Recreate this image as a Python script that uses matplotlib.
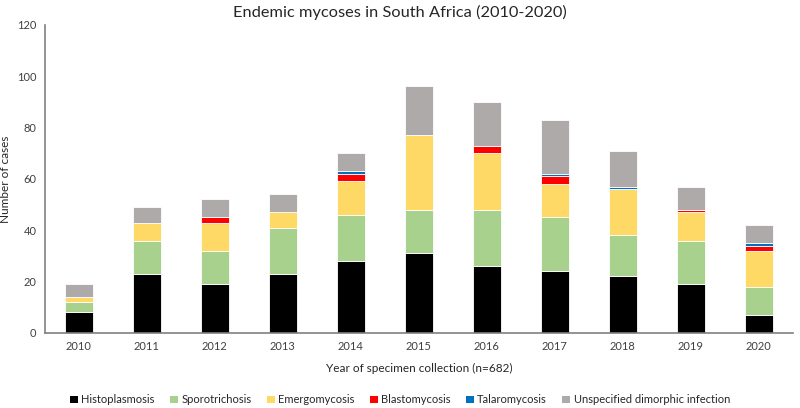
import matplotlib
matplotlib.use("Agg")
import matplotlib.pyplot as plt
import numpy as np
from matplotlib.patches import Patch

plt.rcParams['font.family'] = ['Lato', 'DejaVu Sans']

years = ['2010', '2011', '2012', '2013', '2014', '2015', '2016', '2017', '2018', '2019', '2020']
histoplasmosis = [8, 23, 19, 23, 28, 31, 26, 24, 22, 19, 7]
sporotrichosis = [4, 13, 13, 18, 18, 17, 22, 21, 16, 17, 11]
emergomycosis = [2, 7, 11, 6, 13, 29, 22, 13, 18, 11, 14]
blastomycosis = [0, 0, 2, 0, 3, 0, 3, 3, 0, 1, 2]
talaromycosis = [0, 0, 0, 0, 1, 0, 0, 1, 1, 0, 1]
unspecified = [5, 6, 7, 7, 7, 19, 17, 21, 14, 9, 7]

series = [
    ('Histoplasmosis', histoplasmosis, '#000000'),
    ('Sporotrichosis', sporotrichosis, '#A9D18E'),
    ('Emergomycosis', emergomycosis, '#FFD966'),
    ('Blastomycosis', blastomycosis, '#FF0000'),
    ('Talaromycosis', talaromycosis, '#0070C0'),
    ('Unspecified dimorphic infection', unspecified, '#AEAAAA'),
]

fig = plt.figure(figsize=(8, 4.08), dpi=100)
ax = fig.add_axes([0.056, 0.184, 0.935, 0.755])

x = np.arange(len(years))
bottom = np.zeros(len(years))
for name, vals, col in series:
    v = np.array(vals, dtype=float)
    ax.bar(x, v, width=0.42, bottom=bottom, color=col, edgecolor='white', linewidth=0.6, label=name)
    bottom += v

ax.set_xlim(-0.5, len(years) - 0.5)
ax.set_ylim(0, 120)
ax.set_yticks(range(0, 121, 20))
ax.set_xticks(x)
ax.set_xticklabels(years)
ax.tick_params(axis='both', length=0, labelsize=8, colors='#404040', pad=6)
for s in ['top', 'right']:
    ax.spines[s].set_visible(False)
for s in ['left', 'bottom']:
    ax.spines[s].set_color('#808080')
    ax.spines[s].set_linewidth(1.2)

fig.text(0.5, 0.97, 'Endemic mycoses in South Africa (2010-2020)', fontsize=11.8, color='#262626',
         ha='center', va='center')
ax.set_ylabel('Number of cases', fontsize=8.5, color='#262626')
ax.set_xlabel('Year of specimen collection (n=682)', fontsize=8.5, color='#262626', labelpad=8)

handles = [Patch(facecolor=c, edgecolor='none') for _, _, c in series]
labels = [n for n, _, _ in series]
fig.legend(handles, labels, loc='center', bbox_to_anchor=(0.5, 0.02), ncol=6, frameon=False,
           fontsize=8, handlelength=0.7, handleheight=0.7, handletextpad=0.3, columnspacing=1.4,
           labelcolor='#262626')

fig.savefig('out.png', dpi=100)
